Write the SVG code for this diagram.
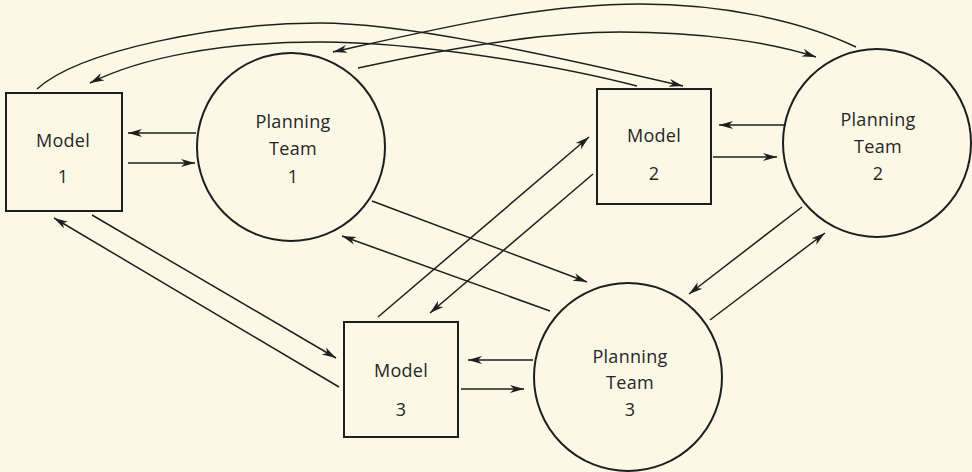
<svg xmlns="http://www.w3.org/2000/svg" width="972" height="472" viewBox="0 0 972 472">
<defs>
<marker id="ah" markerUnits="userSpaceOnUse" markerWidth="16" markerHeight="10" refX="14" refY="5" orient="auto">
<path d="M0,1 L14,5 L0,9 L4,5 Z" fill="#1e1e1e"/>
</marker>
<style>
.box{fill:none;stroke:#1e1e1e;stroke-width:2}
.lbl{font-family:"Open Sans","Liberation Sans",sans-serif;font-size:18px;fill:#262626;text-anchor:middle;letter-spacing:0.3px}
.a{fill:none;stroke:#1e1e1e;stroke-width:1.5;marker-end:url(#ah)}
</style>
</defs>
<rect width="972" height="472" fill="#fbf8e6"/>
<g id="model1">
<rect class="box" x="6" y="93" width="116" height="118"/>
<text class="lbl" x="63" y="147">Model</text>
<text class="lbl" x="63" y="183">1</text>
</g>
<g id="team1">
<circle class="box" cx="291" cy="147" r="94"/>
<text class="lbl" x="293" y="128">Planning</text>
<text class="lbl" x="293" y="155">Team</text>
<text class="lbl" x="293" y="183">1</text>
</g>
<g id="model2">
<rect class="box" x="597" y="89" width="114" height="115"/>
<text class="lbl" x="654" y="142">Model</text>
<text class="lbl" x="654" y="180">2</text>
</g>
<g id="team2">
<circle class="box" cx="877" cy="143" r="94"/>
<text class="lbl" x="878" y="126">Planning</text>
<text class="lbl" x="878" y="153">Team</text>
<text class="lbl" x="878" y="180">2</text>
</g>
<g id="model3">
<rect class="box" x="344" y="322" width="114" height="115"/>
<text class="lbl" x="401" y="377">Model</text>
<text class="lbl" x="401" y="416">3</text>
</g>
<g id="team3">
<circle class="box" cx="628" cy="377" r="94"/>
<text class="lbl" x="630" y="363">Planning</text>
<text class="lbl" x="630" y="389">Team</text>
<text class="lbl" x="630" y="416">3</text>
</g>
<g id="connectors">
<path class="a" d="M37,89 C80,50 220,23 320,23 C400,23 533,51 683,86"/>
<path class="a" d="M637,86 C560,66 420,42 320,42 C220,42 140,58 90,83"/>
<path class="a" d="M856,47 C800,20 720,4 640,4 C540,4 440,28 333,52"/>
<path class="a" d="M358,68 C440,50 540,32 620,32 C700,32 770,42 816,57"/>
<path class="a" d="M196,133 L128,133"/>
<path class="a" d="M128,163 L195,163"/>
<path class="a" d="M786,125 L719,125"/>
<path class="a" d="M713,157 L777,157"/>
<path class="a" d="M533,360 L468,360"/>
<path class="a" d="M461,389 L524,389"/>
<path class="a" d="M92,215 L336,358"/>
<path class="a" d="M339,387 L54,218"/>
<path class="a" d="M372,201 L587,282"/>
<path class="a" d="M550,311 L342,236"/>
<path class="a" d="M378,317 L589,137"/>
<path class="a" d="M593,174 L430,313"/>
<path class="a" d="M802,207 L689,294"/>
<path class="a" d="M710,320 L825,233"/>
</g>
</svg>
